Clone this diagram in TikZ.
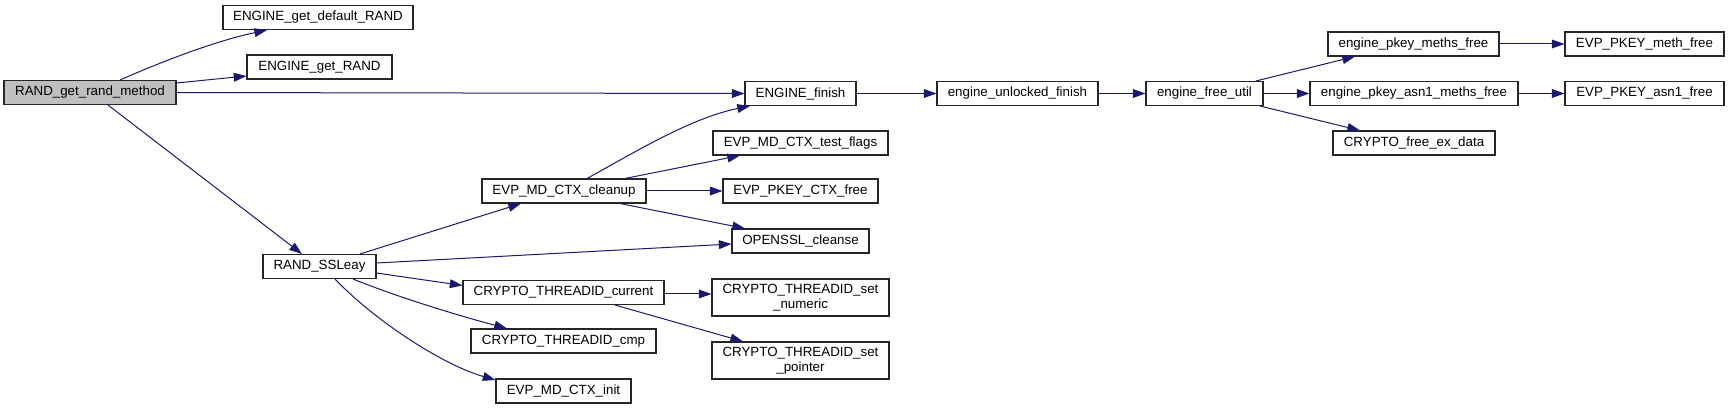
\documentclass[tikz,border=0pt]{standalone}
\usepackage{fontspec}
\setmainfont{Liberation Sans}
\usetikzlibrary{arrows.meta,calc}
\definecolor{edgec}{HTML}{191970}
\definecolor{hilite}{HTML}{BFBFBF}
\begin{document}
\begin{tikzpicture}[x=0.75pt,y=-0.75pt,
  box/.style={draw=black!85, line width=0.8pt, fill=white, inner sep=0pt,
    minimum height=18pt, font=\fontsize{10}{11.2}\selectfont, align=center},
  wd/.style={minimum width=#1*0.75pt},
  tall/.style={minimum height=27.75pt},
  edge/.style={draw=edgec, line width=0.75pt, -{Triangle[length=9.5pt,width=6.6pt]}}
]
\useasboundingbox (0,0) rectangle (1730,409);

% nodes
\node[box, wd=172, fill=hilite] (rgm) at (90,92.5) {RAND\_get\_rand\_method};
\node[box, wd=190] (egdr) at (318,17.5) {ENGINE\_get\_default\_RAND};
\node[box, wd=145] (egr) at (319.5,67) {ENGINE\_get\_RAND};
\node[box, wd=113] (ssl) at (319.5,266.5) {RAND\_SSLeay};
\node[box, wd=164] (cln) at (564,191) {EVP\_MD\_CTX\_cleanup};
\node[box, wd=201] (tcur) at (563.5,292.5) {CRYPTO\_THREADID\_current};
\node[box, wd=185] (tcmp) at (563.5,341) {CRYPTO\_THREADID\_cmp};
\node[box, wd=135] (init) at (563.5,391) {EVP\_MD\_CTX\_init};
\node[box, wd=111] (fin) at (800.5,93.5) {ENGINE\_finish};
\node[box, wd=175] (tflags) at (800.5,143) {EVP\_MD\_CTX\_test\_flags};
\node[box, wd=155] (pctx) at (800.5,191) {EVP\_PKEY\_CTX\_free};
\node[box, wd=137] (clean) at (800.5,241) {OPENSSL\_cleanse};
\node[box, wd=177, tall] (snum) at (800.5,297.5) {CRYPTO\_THREADID\_set\\\_numeric};
\node[box, wd=177, tall] (sptr) at (800.5,360.5) {CRYPTO\_THREADID\_set\\\_pointer};
\node[box, wd=161] (unl) at (1017.5,93.5) {engine\_unlocked\_finish};
\node[box, wd=117] (efu) at (1204.5,93.5) {engine\_free\_util};
\node[box, wd=171] (pmf) at (1413.5,44) {engine\_pkey\_meths\_free};
\node[box, wd=208] (pamf) at (1414,93.5) {engine\_pkey\_asn1\_meths\_free};
\node[box, wd=162] (cfed) at (1414,143) {CRYPTO\_free\_ex\_data};
\node[box, wd=159] (emf) at (1644.5,44) {EVP\_PKEY\_meth\_free};
\node[box, wd=159] (eaf) at (1644.5,93.5) {EVP\_PKEY\_asn1\_free};

% edges
\draw[edge] ($(rgm.north)+(30,0)$) .. controls (170,58) and (220,40) .. ($(egdr.south)+(-51,0)$);
\draw[edge] ($(rgm.east)+(0,-9.5)$) -- ($(egr.west)+(0,9)$);
\draw[edge] (rgm.east) -- (fin.west);
\draw[edge] ($(rgm.south)+(18,0)$) -- ($(ssl.north)+(-17.5,0)$);
\draw[edge] ($(ssl.north)+(40.5,0)$) -- ($(cln.south)+(-43,0)$);
\draw[edge] ($(ssl.east)+(0,-3.5)$) -- ($(clean.west)+(0,3)$);
\draw[edge] ($(ssl.east)+(0,6.5)$) -- ($(tcur.west)+(0,-7)$);
\draw[edge] ($(ssl.south)+(33.5,0)$) .. controls (400,298) and (460,316) .. ($(tcmp.north)+(-56.5,0)$);
\draw[edge] ($(ssl.south)+(15.5,0)$) .. controls (372,318) and (440,364) .. ($(init.west)+(0,-11)$);
\draw[edge] ($(cln.north)+(23,0)$) .. controls (630,155) and (690,118) .. ($(fin.south)+(-50.5,0)$);
\draw[edge] ($(cln.north)+(61,0)$) -- ($(tflags.south)+(-60.5,0)$);
\draw[edge] (cln.east) -- (pctx.west);
\draw[edge] ($(cln.south)+(56,0)$) -- ($(clean.north)+(-55.5,0)$);
\draw[edge] ($(tcur.east)+(0,1.5)$) -- ($(snum.west)+(0,-3.5)$);
\draw[edge] ($(tcur.south)+(51.5,0)$) -- ($(sptr.north)+(-57.5,0)$);
\draw[edge] (fin.east) -- (unl.west);
\draw[edge] (unl.east) -- (efu.west);
\draw[edge] ($(efu.north)+(51.5,0)$) -- ($(pmf.south)+(-58.5,0)$);
\draw[edge] (efu.east) -- (pamf.west);
\draw[edge] ($(efu.south)+(55.5,0)$) -- ($(cfed.north)+(-54,0)$);
\draw[edge] (pmf.east) -- (emf.west);
\draw[edge] (pamf.east) -- (eaf.west);
\end{tikzpicture}
\end{document}
